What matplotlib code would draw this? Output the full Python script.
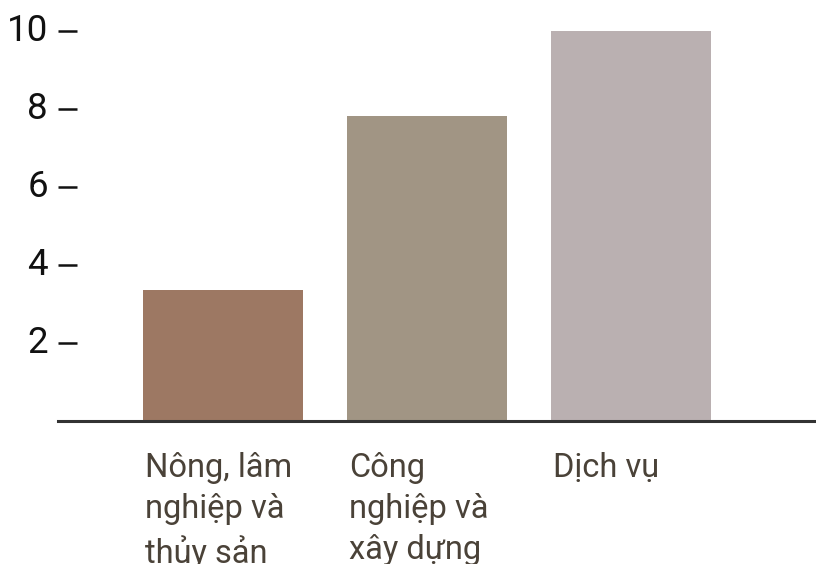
import matplotlib.pyplot as plt
import matplotlib.transforms as mtransforms

plt.rcParams['font.family'] = ['Roboto', 'DejaVu Sans']

categories = ["Nông, lâm\nnghiệp và\nthủy sản", "Công\nnghiệp và\nxây dựng", "Dịch vụ"]
values = [3.35, 7.8, 10.0]
colors = ['#9d7863', '#a19584', '#bab0b1']
yticks = [2, 4, 6, 8, 10]

W, H = 816, 564
fig = plt.figure(figsize=(W / 100, H / 100), dpi=100)
ax = fig.add_axes([58 / W, (H - 421) / H, (W - 58) / W, (421 - 11) / H])

x = list(range(len(categories)))
bw = 0.784
ax.bar(x, values, width=bw, color=colors, zorder=2)

ax.set_xlim(-0.809, 2.907)
ax.set_ylim(0, 10.5)

for s in ['top', 'right', 'left']:
    ax.spines[s].set_visible(False)
ax.spines['bottom'].set_color('#333333')
ax.spines['bottom'].set_linewidth(2.2)
ax.spines['bottom'].set_zorder(3)

ax.set_xticks([])
ax.set_yticks(yticks)
ax.set_yticklabels([str(t) for t in yticks], fontsize=26.5, color='#111111')
ax.tick_params(axis='y', direction='in', length=13.5, width=1.8, color='#111111', pad=0)
for lab in ax.get_yticklabels():
    lab.set_horizontalalignment('right')

# labels sit left of the tick marks, a bit above them
offset = mtransforms.ScaledTranslation(-10 / 100, 4 / 100, fig.dpi_scale_trans)
for lab in ax.get_yticklabels():
    lab.set_transform(lab.get_transform() + offset)

trans = mtransforms.blended_transform_factory(ax.transData, ax.transAxes)
for xi, lab in zip(x, categories):
    ax.text(xi - bw / 2 + 0.01, -31 / 410, lab, transform=trans, ha='left', va='top',
            fontsize=23.5, color='#4a4238', linespacing=1.36)

fig.savefig('out.png', dpi=100)
